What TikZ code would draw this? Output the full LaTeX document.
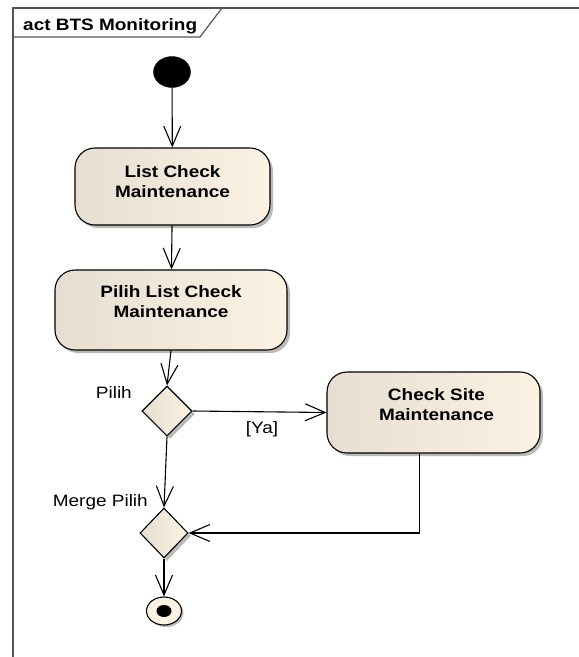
\documentclass[tikz,border=0pt]{standalone}
\usepackage{fontspec}
\setmainfont{Liberation Sans}[FakeStretch=1.15]
\usepackage{xcolor}
\usepackage{tikz}
\usetikzlibrary{calc, positioning, arrows.meta, shapes.geometric, shadows}
\definecolor{actLeft}{RGB}{230,222,208}
\definecolor{actRight}{RGB}{251,242,228}
\definecolor{frameGray}{RGB}{85,85,85}
\tikzset{
    activity/.style={rectangle, rounded corners=20pt, draw=black, line width=1.1pt, left color=actLeft, middle color=actRight, right color=actRight, drop shadow={shadow xshift=3pt, shadow yshift=-3pt, fill=black!45, opacity=0.6}},
    actText/.style={font=\fontsize{16.5}{20}\selectfont\bfseries, align=center, inner sep=0pt, yshift=5pt},
    decision/.style={diamond, draw=black, line width=1.1pt, left color=actLeft, middle color=actRight, right color=actRight, minimum width=50pt, minimum height=50pt, inner sep=0pt, drop shadow={shadow xshift=3pt, shadow yshift=-3pt, fill=black!45, opacity=0.6}},
    startNode/.style={ellipse, draw=black, fill=black, minimum width=37pt, minimum height=31pt, inner sep=0pt},
    endNode/.style={ellipse, draw=black, line width=1.1pt, fill=actRight, minimum width=35pt, minimum height=28pt, inner sep=0pt, drop shadow={shadow xshift=2pt, shadow yshift=-2pt, fill=black!45, opacity=0.6}, path picture={\fill[black] (path picture bounding box.center) ellipse [x radius=7.5pt, y radius=6pt];}},
    flow/.style={-{Straight Barb[length=20pt, width=17pt]}, line width=1.1pt},
    guard/.style={font=\fontsize{16.5}{20}\selectfont, inner sep=0pt}
}
\begin{document}
\begin{tikzpicture}[x=1pt, y=-1pt]
    \useasboundingbox (0,0) rectangle (579,657);
    \clip (0,0) rectangle (579,657);

    % Frame
    \draw[frameGray, line width=1.2pt] (13,8) rectangle (620,700);
    \draw[frameGray, line width=1.2pt] (13,37) -- (200,37) -- (222,8);
    \node[anchor=base west, inner sep=0pt, font=\fontsize{16.5}{20}\selectfont\bfseries] (title) at (23,30) {act BTS Monitoring};

    % Nodes
    \node[startNode] (start) at (172,72) {};
    \node[activity, minimum width=195pt, minimum height=77pt, label={[actText]center:List Check\\Maintenance}] (listCheck) at (172.5,186.5) {};
    \node[activity, minimum width=232pt, minimum height=80pt, label={[actText, yshift=3pt]center:Pilih List Check\\Maintenance}] (pilihList) at (171,310) {};
    \node[decision] (pilih) at (167,411) {};
    \node[activity, minimum width=213pt, minimum height=81pt, label={[actText, yshift=3pt, xshift=3pt]center:Check Site\\Maintenance}] (checkSite) at (433.5,412.5) {};
    \node[decision, minimum width=48pt] (mergePilih) at (164,533) {};
    \node[endNode] (end) at (164,611) {};

    % Labels
    \node[guard, anchor=base east] (pilihLbl) at (132,398) {Pilih};
    \node[guard, anchor=base] (yaLbl) at (262,433) {[Ya]};
    \node[guard, anchor=base east] (mergeLbl) at (148,506) {Merge Pilih};

    % Flows
    \draw[flow] (start) -- (listCheck);
    \draw[flow] (listCheck) -- (pilihList);
    \draw[flow] (pilihList.south) -- (pilih.north);
    \draw[flow] (pilih.east) -- (checkSite.west);
    \draw[flow] (pilih.south) -- (mergePilih.north);
    \draw[flow] (checkSite.south) ++(-14,0) |- (mergePilih.east);
    \draw[flow] (mergePilih.south) -- (end.north);
\end{tikzpicture}
\end{document}
